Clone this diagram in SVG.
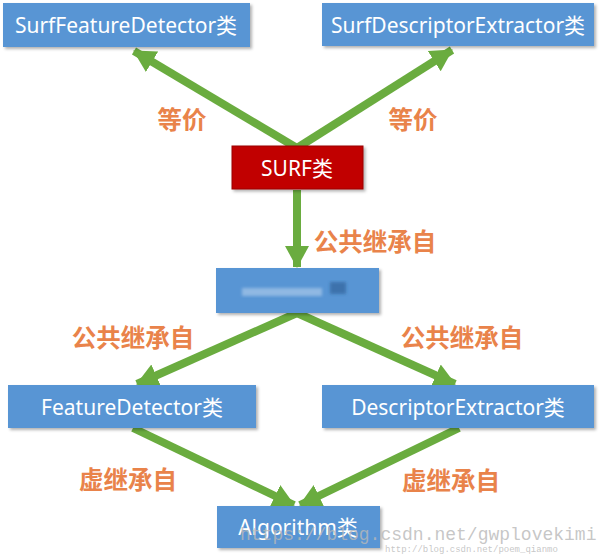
<svg xmlns="http://www.w3.org/2000/svg" width="600" height="556" viewBox="0 0 600 556">
<defs>
<marker id="ah" markerUnits="userSpaceOnUse" markerWidth="26" markerHeight="26" refX="21" refY="13" orient="auto">
<path d="M0,1 L22,13 L0,25 Z" fill="#6aac3f"/>
</marker>
<filter id="sh" x="-5%" y="-10%" width="115%" height="130%">
<feDropShadow dx="2" dy="2" stdDeviation="1.5" flood-color="#000" flood-opacity="0.3"/>
</filter>
<filter id="bl"><feGaussianBlur stdDeviation="1.5"/></filter>
</defs>
<style>
.box{fill:#5895d4;filter:url(#sh)}
.red{fill:#c10000;stroke:#9a0000;stroke-width:1;filter:url(#sh)}
.nt{font-family:"Noto Sans","Noto Sans CJK SC",sans-serif;font-size:21px;fill:#fff;text-anchor:middle;dominant-baseline:central}
.lb{font-family:"Noto Sans CJK SC",sans-serif;font-size:24.5px;font-weight:bold;fill:#e9834a;text-anchor:middle;dominant-baseline:central}
.cn{stroke:#6aac3f;stroke-width:8;fill:none;marker-end:url(#ah)}
.wm{font-family:"Liberation Mono",monospace;fill:#b8b8b8;fill-opacity:0.8}
</style>
<rect width="600" height="556" fill="#fff"/>
<g id="connectors">
<line class="cn" x1="297" y1="148" x2="134" y2="51"/>
<line class="cn" x1="297" y1="148" x2="452" y2="50"/>
<line class="cn" x1="297" y1="190" x2="297" y2="267"/>
<line class="cn" x1="297" y1="313" x2="137" y2="384"/>
<line class="cn" x1="297" y1="313" x2="455" y2="384"/>
<line class="cn" x1="133" y1="428" x2="294" y2="505"/>
<line class="cn" x1="459" y1="428" x2="300" y2="505"/>
</g>
<g id="labels">
<text class="lb" x="182" y="118">等价</text>
<text class="lb" x="413" y="118">等价</text>
<text class="lb" x="375" y="240">公共继承自</text>
<text class="lb" x="133" y="336">公共继承自</text>
<text class="lb" x="462" y="336">公共继承自</text>
<text class="lb" x="128" y="478">虚继承自</text>
<text class="lb" x="451" y="479">虚继承自</text>
</g>
<g id="SurfFeatureDetector">
<rect class="box" x="3" y="3" width="247" height="44"/>
<text class="nt" x="126" y="25">SurfFeatureDetector类</text>
</g>
<g id="SurfDescriptorExtractor">
<rect class="box" x="322" y="3" width="272" height="43"/>
<text class="nt" x="458" y="25">SurfDescriptorExtractor类</text>
</g>
<g id="SURF">
<rect class="red" x="232" y="146" width="131" height="43"/>
<text class="nt" x="297" y="168">SURF类</text>
</g>
<g id="Feature2D">
<rect class="box" x="216" y="268" width="163" height="45"/>
<g filter="url(#bl)">
<rect x="242" y="288" width="80" height="8" fill="#c8dcf2" opacity="0.5"/>
<rect x="330" y="282" width="16" height="12" fill="#1f4f85" opacity="0.5"/>
</g>
</g>
<g id="FeatureDetector">
<rect class="box" x="8" y="385" width="248" height="43"/>
<text class="nt" x="132" y="407">FeatureDetector类</text>
</g>
<g id="DescriptorExtractor">
<rect class="box" x="322" y="385" width="272" height="43"/>
<text class="nt" x="458" y="407">DescriptorExtractor类</text>
</g>
<g id="Algorithm">
<rect class="box" x="217" y="506" width="163" height="42"/>
<text class="nt" x="298" y="527">Algorithm类</text>
</g>
<g id="watermark">
<text class="wm" x="240" y="540" font-size="18">https://blog.csdn.net/gwplovekimi</text>
<text class="wm" x="385" y="552" font-size="9">http://blog.csdn.net/poem_qianmo</text>
</g>
</svg>
